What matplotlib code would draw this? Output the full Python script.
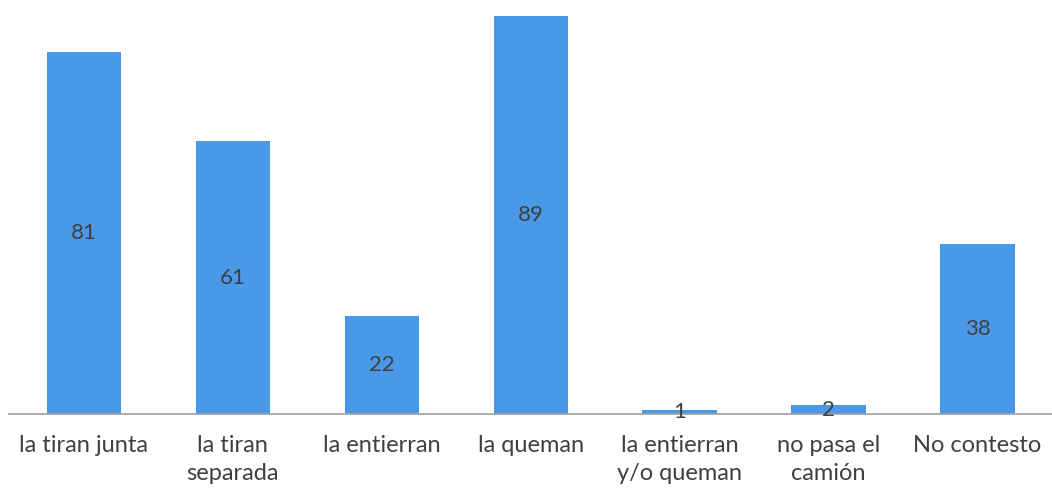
import matplotlib.pyplot as plt

categories = ['la tiran junta', 'la tiran\nseparada', 'la entierran', 'la queman',
              'la entierran\ny/o queman', 'no pasa el\ncamión', 'No contesto']
values = [81, 61, 22, 89, 1, 2, 38]

plt.rcParams['font.family'] = ['Lato', 'DejaVu Sans']

fig = plt.figure(figsize=(10.52, 4.96), dpi=100)
ax = fig.add_axes([0.009, 82 / 496, 0.991, (414 - 16) / 496])

x = list(range(len(values)))
ax.bar(x, values, width=0.5, color='#4a98e8')
for xi, v in zip(x, values):
    ax.text(xi, max(v / 2, 0.2), str(v), ha='center', va='center', fontsize=16, color='#404040')

ax.set_xlim(-0.5, len(values) - 0.5)
ax.set_ylim(0, 89)
ax.set_xticks(x)
ax.set_xticklabels(categories, fontsize=17, color='#404040', linespacing=1.4)
ax.tick_params(axis='x', length=0, pad=15)
ax.set_yticks([])
for s in ['top', 'right', 'left']:
    ax.spines[s].set_visible(False)
ax.spines['bottom'].set_color('#a0a0a0')
ax.spines['bottom'].set_linewidth(1.2)

fig.savefig('out.png', dpi=100)
